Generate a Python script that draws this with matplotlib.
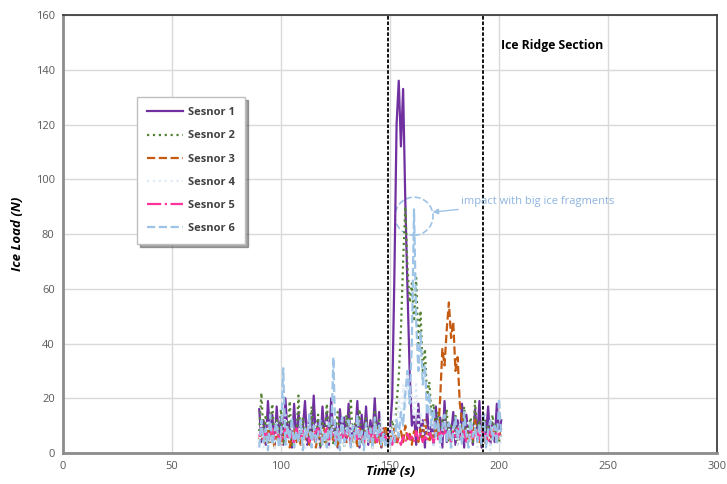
import matplotlib.pyplot as plt
from matplotlib.patches import Ellipse

plt.rcParams['font.family'] = ['Open Sans', 'DejaVu Sans']

# time axis (s), one sample per second across the test window
t_start = 90
t_end = 201

sensor1 = [16, 4, 12, 3, 19, 6, 14, 2, 17, 5,
           13, 3, 20, 7, 11, 2, 18, 4, 15, 6,
           9, 19, 3, 14, 5, 21, 4, 12, 2, 17,
           6, 15, 3, 20, 5, 11, 2, 16, 7, 13,
           4, 18, 3, 10, 6, 19, 2, 14, 5, 17,
           3, 12, 6, 20, 4, 15, 2, 9, 5, 3,
           8, 20, 65, 120, 136, 112, 133, 92, 60, 30,
           10, 14, 3, 18, 6, 12, 2, 16, 5, 10,
           3, 17, 6, 13, 2, 19, 4, 11, 7, 15,
           3, 12, 5, 18, 2, 14, 6, 9, 3, 16,
           5, 19, 2, 13, 6, 17, 3, 11, 4, 18,
           6, 12]
sensor2 = [8, 22, 5, 14, 3, 10, 18, 4, 12, 6,
           16, 3, 11, 7, 19, 2, 9, 5, 21, 4,
           13, 6, 10, 3, 17, 5, 8, 14, 2, 11,
           4, 18, 7, 12, 3, 9, 15, 5, 10, 2,
           14, 6, 20, 3, 11, 8, 16, 4, 9, 13,
           5, 10, 2, 15, 6, 12, 4, 8, 3, 6,
           4, 12, 8, 18, 28, 45, 70, 90, 68, 55,
           62, 48, 64, 40, 52, 30, 38, 20, 26, 14,
           18, 8, 15, 5, 12, 7, 16, 4, 10, 6,
           14, 3, 11, 8, 17, 5, 9, 13, 4, 19,
           6, 12, 3, 15, 8, 10, 5, 14, 7, 11,
           4, 9]
sensor3 = [5, 8, 3, 6, 9, 4, 7, 2, 8, 5,
           3, 7, 5, 9, 2, 6, 8, 4, 6, 3,
           7, 5, 9, 3, 6, 8, 2, 7, 4, 6,
           9, 3, 5, 8, 4, 7, 2, 6, 9, 5,
           4, 8, 3, 6, 7, 2, 9, 5, 3, 8,
           6, 4, 7, 3, 9, 5, 2, 8, 10, 4,
           7, 5, 9, 3, 6, 8, 4, 10, 5, 7,
           3, 8, 6, 4, 9, 5, 12, 6, 4, 8,
           5, 9, 6, 20, 38, 32, 45, 55, 42, 48,
           30, 35, 18, 12, 6, 9, 4, 8, 5, 12,
           7, 4, 9, 6, 3, 8, 5, 10, 6, 4,
           8, 5]
sensor4 = [3, 10, 2, 7, 12, 4, 9, 1, 11, 5,
           2, 8, 14, 3, 6, 10, 2, 9, 4, 12,
           5, 1, 8, 13, 3, 7, 11, 2, 6, 9,
           4, 12, 1, 7, 10, 3, 8, 5, 13, 2,
           9, 4, 11, 2, 6, 12, 3, 8, 1, 10,
           5, 9, 2, 11, 4, 7, 13, 3, 6, 2,
           10, 4, 14, 8, 20, 12, 25, 16, 30, 18,
           22, 12, 26, 9, 15, 6, 12, 4, 9, 13,
           3, 8, 11, 2, 7, 12, 4, 9, 1, 10,
           6, 2, 11, 5, 8, 3, 12, 4, 7, 10,
           2, 9, 5, 12, 3, 8, 1, 10, 6, 4,
           9, 3]
sensor5 = [6, 9, 5, 8, 4, 7, 9, 5, 8, 6,
           4, 7, 9, 5, 8, 6, 4, 9, 7, 5,
           8, 6, 9, 4, 7, 5, 8, 9, 6, 4,
           7, 9, 5, 8, 6, 4, 9, 7, 5, 8,
           6, 9, 4, 7, 8, 5, 9, 6, 4, 7,
           8, 5, 9, 6, 4, 7, 8, 5, 6, 4,
           5, 3, 6, 4, 5, 3, 6, 4, 7, 5,
           6, 4, 8, 5, 7, 4, 6, 5, 8, 6,
           4, 7, 5, 8, 6, 9, 5, 7, 4, 8,
           6, 9, 5, 7, 8, 4, 6, 9, 5, 7,
           8, 5, 9, 6, 7, 4, 8, 6, 9, 5,
           7, 6]
sensor6 = [2, 12, 4, 9, 1, 14, 3, 8, 11, 2,
           6, 31, 3, 10, 5, 13, 2, 8, 4, 12,
           1, 9, 6, 14, 2, 10, 4, 7, 12, 3,
           8, 2, 11, 5, 35, 3, 9, 1, 13, 4,
           7, 12, 2, 10, 5, 14, 3, 8, 1, 11,
           4, 9, 2, 13, 6, 10, 3, 7, 2, 5,
           3, 8, 4, 12, 6, 15, 10, 22, 30, 18,
           40, 89, 48, 30, 44, 25, 32, 14, 22, 10,
           16, 6, 12, 3, 9, 14, 4, 11, 2, 8,
           13, 5, 10, 3, 15, 7, 2, 12, 6, 9,
           4, 11, 3, 14, 2, 8, 12, 5, 10, 3,
           20, 6]

labels = ['Sesnor 1', 'Sesnor 2', 'Sesnor 3', 'Sesnor 4', 'Sesnor 5', 'Sesnor 6']
colors = ['#7030A0', '#548235', '#C55A11', '#DEEBF7', '#FF3399', '#9DC3E6']
styles = ['-', ':', '--', ':', '-.', '--']

ridge_start = 149
ridge_end = 192.5

t = list(range(t_start, t_end + 1))
series = [sensor1, sensor2, sensor3, sensor4, sensor5, sensor6]

fig = plt.figure(figsize=(7.27, 4.84), dpi=100)
ax = fig.add_axes([0.0867, 0.064, 0.8996, 0.905])

for i in range(len(series)):
    ax.plot(t, series[i], color=colors[i], linestyle=styles[i], linewidth=1.6, label=labels[i])

ax.axvline(ridge_start, color='black', linestyle=(0, (2, 1)), linewidth=1.3)
ax.axvline(ridge_end, color='black', linestyle=(0, (2, 1)), linewidth=1.3)

ax.set_xlim(0, 300)
ax.set_ylim(0, 160)
ax.set_xticks(range(0, 301, 50))
ax.set_yticks(range(0, 161, 20))
ax.grid(True, color='#D9D9D9', linewidth=1)
ax.set_axisbelow(True)
ax.tick_params(length=0, labelsize=8, colors='#595959', pad=6)

for side in ['left', 'bottom']:
    ax.spines[side].set_color('#8C8C8C')
    ax.spines[side].set_linewidth(2)
for side in ['top', 'right']:
    ax.spines[side].set_color('#404040')
    ax.spines[side].set_linewidth(1.3)

ax.set_xlabel('Time (s)', fontsize=9.5, fontweight='bold', style='italic', labelpad=-5)
ax.set_ylabel('Ice Load (N)', fontsize=9.5, fontweight='bold', style='italic', labelpad=8)

ax.text(201, 149, 'Ice Ridge Section', fontsize=8.8, fontweight='bold', va='center')

circle = Ellipse((161, 86.5), 17.4, 13.9, fill=False, edgecolor='#9DC3E6',
                 linestyle='--', linewidth=1.2)
ax.add_patch(circle)
ax.annotate('impact with big ice fragments', xy=(169.5, 88), xytext=(182.5, 92),
            color='#8DB4E2', fontsize=8, va='center',
            arrowprops=dict(arrowstyle='-|>', color='#9DC3E6', lw=1, shrinkA=0, shrinkB=0))

leg = ax.legend(loc='upper left', bbox_to_anchor=(0.105, 0.825), fancybox=False,
                shadow=True, handlelength=3.2, handletextpad=0.5, labelspacing=1.1,
                borderpad=0.9, prop={'weight': 'bold', 'size': 8})
leg.get_frame().set_edgecolor('#BFBFBF')
for txt in leg.get_texts():
    txt.set_color('#404040')

fig.savefig('out.png', dpi=100)
